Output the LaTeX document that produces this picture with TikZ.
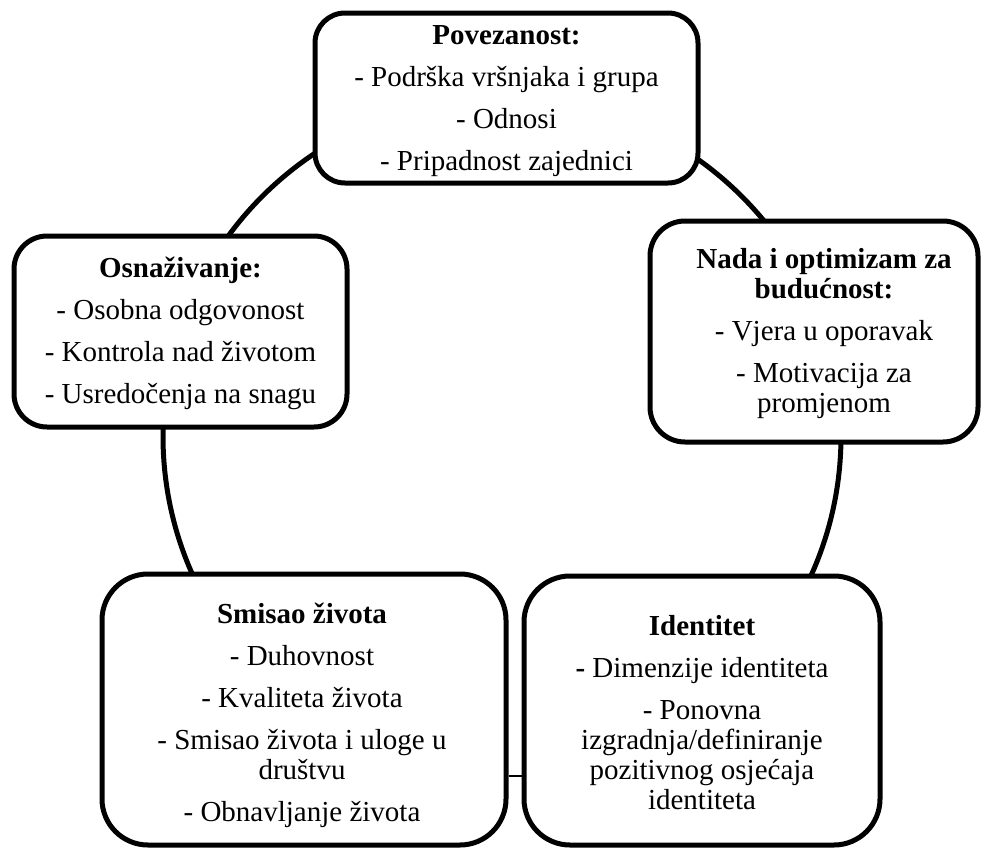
\documentclass[tikz,border=0pt]{standalone}
\usepackage{fontspec}
\setmainfont{Liberation Serif}
\begin{document}
\begin{tikzpicture}[x=1pt,y=-1pt,
  box/.style={draw=black,line width=5pt,rounded corners=#1,fill=white,inner sep=0pt},
  box/.default=32pt,
  txt/.style={align=center,inner sep=0pt,font=\fontsize{29}{30}\selectfont},
  ring/.style={draw=black,line width=5pt},
  thinline/.style={draw=black,line width=1.2pt}]
\useasboundingbox (0,0) rectangle (988,849);
% background circle
\begin{scope}
  \clip (0,0) rectangle (988,760);
  \draw[ring] (502,436) circle (339pt);
\end{scope}
% boxes
\node[box=30pt,minimum width=383pt,minimum height=170pt] (b1) at (506.5,98) {};
\node[box=35pt,minimum width=328pt,minimum height=221pt] (b2) at (814,331.5) {};
\node[box=46pt,minimum width=356pt,minimum height=269pt] (b3) at (702,710.5) {};
\node[box=46pt,minimum width=404pt,minimum height=271pt] (b4) at (304,709.5) {};
\node[box=33pt,minimum width=333pt,minimum height=191pt] (b5) at (180.5,331.5) {};
% thin connector at the bottom
\coordinate (lv) at (0,776);
\draw[thinline] (b4.east |- lv) -- (b3.west |- lv);
% texts
\node[txt,yshift=-3pt] (t1) at (b1.center) {\textbf{Povezanost:}\\[12pt]- Podrška vršnjaka i grupa\\[12pt]- Odnosi\\[12pt]- Pripadnost zajednici};
\node[txt,xshift=10pt,yshift=-2pt] (t2) at (b2.center) {\textbf{Nada i optimizam za}\\\textbf{budućnost:}\\[12pt]- Vjera u oporavak\\[12pt]- Motivacija za\\promjenom};
\node[txt,yshift=-2pt] (t3) at (b3.center) {\textbf{Identitet}\\[12pt]\textbf{-} Dimenzije identiteta\\[12pt]- Ponovna\\izgradnja/definiranje\\pozitivnog osjećaja\\identiteta};
\node[txt,xshift=-2pt,yshift=-6pt] (t4) at (b4.center) {\textbf{Smisao života}\\[12pt]- Duhovnost\\[12pt]- Kvaliteta života\\[12pt]- Smisao života i uloge u\\društvu\\[12pt]- Obnavljanje života};
\node[txt,yshift=-2pt] (t5) at (b5.center) {\textbf{Osnaživanje:}\\[12pt]- Osobna odgovonost\\[12pt]- Kontrola nad životom\\[12pt]- Usredočenja na snagu};
\end{tikzpicture}
\end{document}
